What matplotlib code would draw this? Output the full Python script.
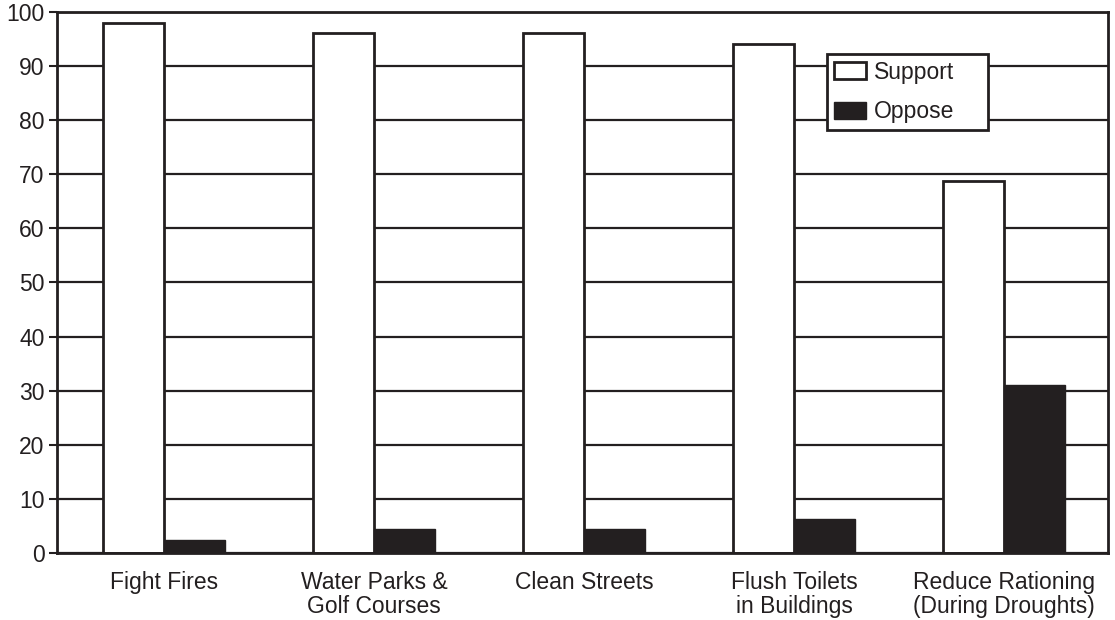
import matplotlib.pyplot as plt
import numpy as np

plt.rcParams['font.family'] = ['Liberation Sans', 'DejaVu Sans']

categories = ['Fight Fires', 'Water Parks &\nGolf Courses', 'Clean Streets',
              'Flush Toilets\nin Buildings', 'Reduce Rationing\n(During Droughts)']
support = [98, 96, 96, 94, 68.7]
oppose = [2.5, 4.4, 4.4, 6.3, 31]

ink = '#231f20'

fig = plt.figure(figsize=(11.15, 6.2), dpi=100)
ax = fig.add_axes([0.0511, 0.108, 0.9426, 0.873])

x = np.arange(len(categories))
w = 0.29
ax.bar(x - w / 2, support, w, color='white', edgecolor=ink, linewidth=2, label='Support', zorder=3)
ax.bar(x + w / 2, oppose, w, color=ink, edgecolor=ink, linewidth=1, label='Oppose', zorder=3)

ax.set_xlim(-0.51, 4.495)
ax.set_ylim(0, 100)
ax.set_yticks(range(0, 101, 10))
ax.set_xticks(x)
ax.set_xticklabels(categories, fontsize=16.5, linespacing=1.05)
ax.tick_params(axis='y', labelsize=16.5, length=6, width=1.5, color=ink, labelcolor=ink, pad=3)
ax.tick_params(axis='x', length=0, pad=13, labelcolor=ink)
ax.yaxis.grid(True, color=ink, linewidth=1.6, zorder=1)
ax.set_axisbelow(True)
for s in ax.spines.values():
    s.set_color(ink)
    s.set_linewidth(2)
    s.set_zorder(5)

# legend box is wider than its contents in the original
leg = ax.legend(loc='upper left', bbox_to_anchor=(0.733, 0.822, 0.153, 0.1), mode='expand',
                fontsize=16.5, fancybox=False, framealpha=1, edgecolor=ink,
                handlelength=1.4, handleheight=0.75, handletextpad=0.35,
                borderpad=0.3, labelspacing=0.72, borderaxespad=0)
leg.get_frame().set_linewidth(2)
leg.set_zorder(6)
for t in leg.get_texts():
    t.set_color(ink)

fig.savefig('out.png', dpi=100)
